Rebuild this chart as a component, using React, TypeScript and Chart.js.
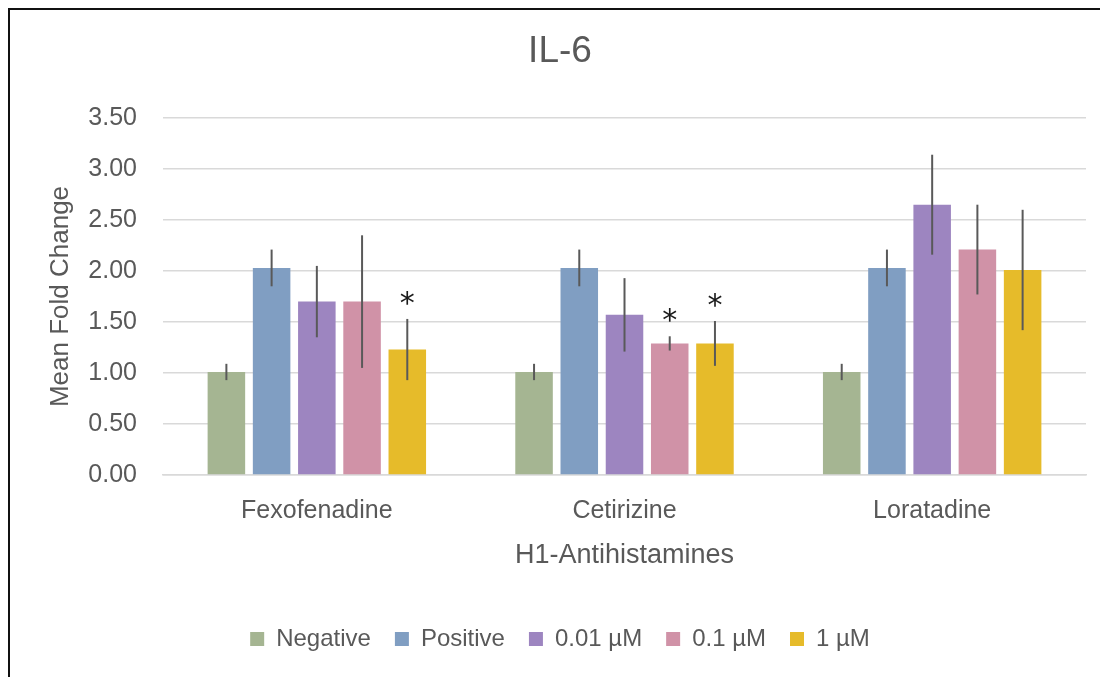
import React, { useEffect, useRef } from "react";
import { Chart, registerables } from "chart.js";

Chart.register(...registerables);

const categories = ["Fexofenadine", "Cetirizine", "Loratadine"];
const seriesLabels = ["Negative", "Positive", "0.01 µM", "0.1 µM", "1 µM"];
const seriesColors = ["#A5B592", "#809EC2", "#9D85C0", "#D092A7", "#E6BB2A"];

const negativeValues = [1.01, 1.01, 1.01];
const negativeErrors = [0.08, 0.08, 0.08];
const positiveValues = [2.03, 2.03, 2.03];
const positiveErrors = [0.18, 0.18, 0.18];
const dose001Values = [1.7, 1.57, 2.65];
const dose001Errors = [0.35, 0.36, 0.49];
const dose01Values = [1.7, 1.29, 2.21];
const dose01Errors = [0.65, 0.07, 0.44];
const dose1Values = [1.23, 1.29, 2.01];
const dose1Errors = [0.3, 0.22, 0.59];

const negativeStars = [false, false, false];
const positiveStars = [false, false, false];
const dose001Stars = [false, false, false];
const dose01Stars = [false, true, false];
const dose1Stars = [true, true, false];

const yMin = 0;
const yMax = 3.5;
const yStep = 0.5;

const seriesValues = [negativeValues, positiveValues, dose001Values, dose01Values, dose1Values];
const seriesErrors = [negativeErrors, positiveErrors, dose001Errors, dose01Errors, dose1Errors];
const seriesStars = [negativeStars, positiveStars, dose001Stars, dose01Stars, dose1Stars];

const FONT = "'Liberation Sans', Arial, Helvetica, sans-serif";
const TEXT = "#595959";

const errorBarPlugin = {
  id: "errorBars",
  afterDatasetsDraw(chart: any) {
    const ctx = chart.ctx;
    const yScale = chart.scales.y;
    ctx.save();
    chart.data.datasets.forEach((ds: any, i: number) => {
      const meta = chart.getDatasetMeta(i);
      if (meta.hidden) return;
      const errs = seriesErrors[i];
      const stars = seriesStars[i];
      meta.data.forEach((el: any, j: number) => {
        const v = ds.data[j];
        const e = errs[j];
        const top = yScale.getPixelForValue(v + e);
        const bot = yScale.getPixelForValue(v - e);
        ctx.beginPath();
        ctx.strokeStyle = "#595959";
        ctx.lineWidth = 2;
        ctx.moveTo(el.x, top);
        ctx.lineTo(el.x, bot);
        ctx.stroke();
        if (stars[j]) {
          ctx.fillStyle = "#1a1a1a";
          ctx.font = "30px 'DejaVu Sans', sans-serif";
          ctx.textAlign = "center";
          ctx.textBaseline = "alphabetic";
          ctx.fillText("*", el.x, top - 6);
        }
      });
    });
    ctx.restore();
  },
};

export default function App() {
  const ref = useRef<HTMLCanvasElement | null>(null);

  useEffect(() => {
    if (!ref.current) return;
    const chart = new Chart(ref.current, {
      type: "bar",
      data: {
        labels: categories,
        datasets: seriesLabels.map((label, i) => ({
          label,
          data: seriesValues[i],
          backgroundColor: seriesColors[i],
          borderWidth: 0,
          categoryPercentage: 0.735,
          barPercentage: 0.83,
        })),
      },
      options: {
        animation: false,
        responsive: true,
        maintainAspectRatio: false,
        layout: { padding: { left: 24, right: 22, top: 0, bottom: 16 } },
        plugins: {
          title: {
            display: true,
            text: "IL-6",
            color: TEXT,
            font: { family: FONT, size: 37, weight: "normal" },
            padding: { top: 19.8, bottom: 43.8 },
          },
          legend: {
            display: true,
            position: "bottom",
            labels: {
              color: TEXT,
              font: { family: FONT, size: 24 },
              boxWidth: 14,
              boxHeight: 14,
              padding: 24,
            },
          },
          tooltip: { enabled: false },
        },
        scales: {
          x: {
            grid: {
              display: true,
              drawOnChartArea: false,
              drawTicks: true,
              tickLength: 21.6,
              tickColor: "rgba(0,0,0,0)",
            },
            border: { display: true, color: "#D9D9D9", width: 1.5 },
            ticks: {
              color: TEXT,
              font: { family: FONT, size: 25 },
              padding: 0,
            },
            title: {
              display: true,
              text: "H1-Antihistamines",
              color: TEXT,
              font: { family: FONT, size: 27 },
              padding: { top: 13.2, bottom: 30.8 },
            },
          },
          y: {
            min: yMin,
            max: yMax,
            grid: {
              color: "#D9D9D9",
              lineWidth: 1.5,
              drawTicks: true,
              tickLength: 26,
              tickColor: "rgba(0,0,0,0)",
            },
            border: { display: false },
            ticks: {
              stepSize: yStep,
              color: TEXT,
              font: { family: FONT, size: 25 },
              padding: 0,
              callback: (v: any) => Number(v).toFixed(2),
            },
            title: {
              display: true,
              text: "Mean Fold Change",
              color: TEXT,
              font: { family: FONT, size: 26 },
              padding: { top: 11.1, bottom: 12.05 },
            },
          },
        },
      },
      plugins: [errorBarPlugin],
    });
    return () => chart.destroy();
  }, []);

  return (
    <div
      style={{
        width: 1100,
        height: 669,
        boxSizing: "border-box",
        borderTop: "2px solid #111",
        borderLeft: "2px solid #111",
        background: "#fff",
      }}
    >
      <div style={{ position: "relative", width: 1098, height: 667 }}>
        <canvas ref={ref} />
      </div>
    </div>
  );
}
